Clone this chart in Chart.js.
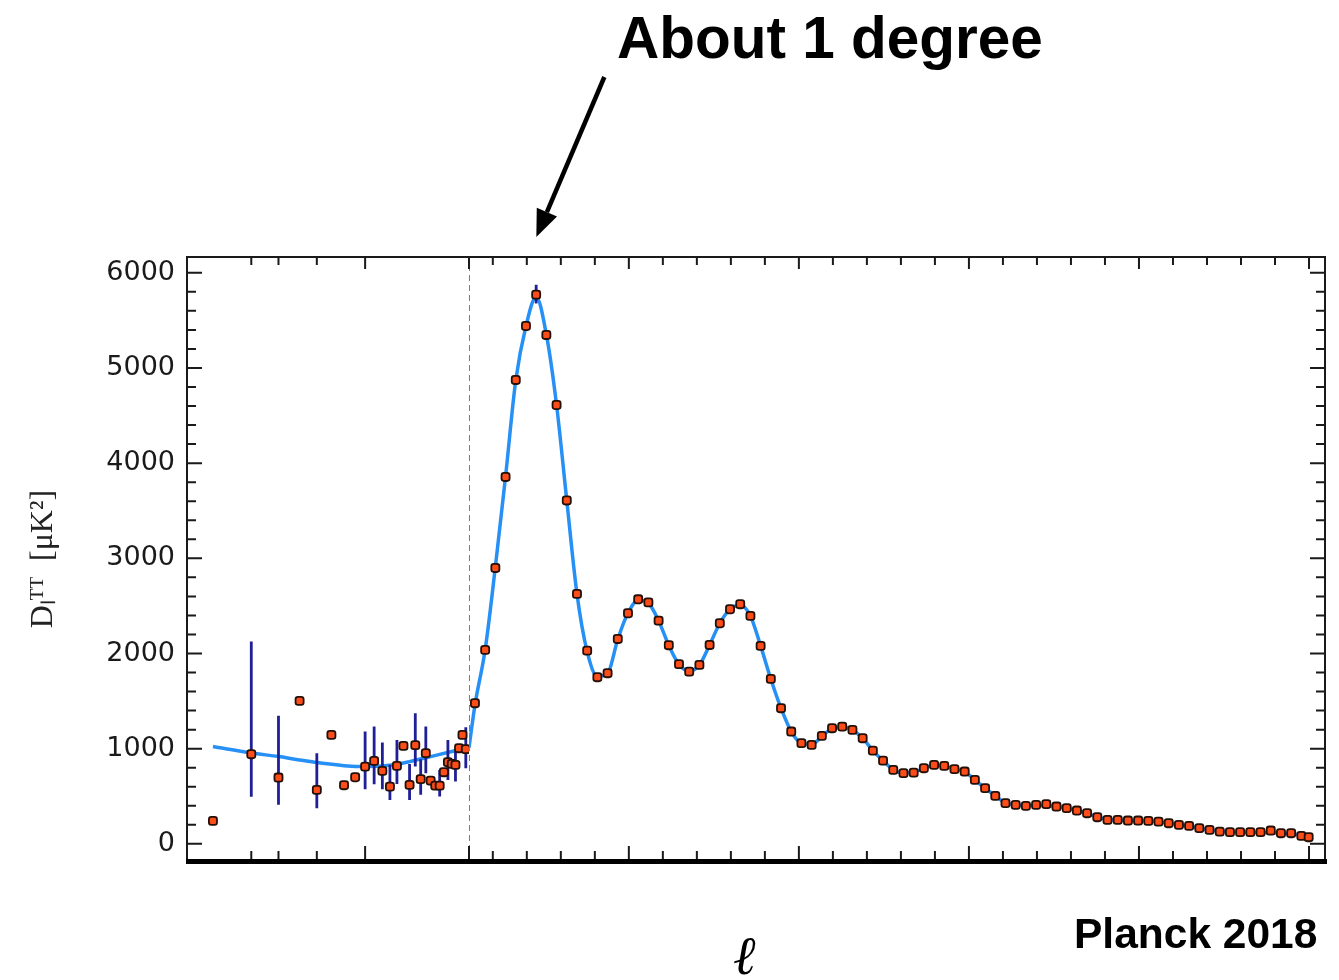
<!DOCTYPE html>
<html>
<head>
<meta charset="utf-8">
<title>Planck 2018 TT spectrum</title>
<script src="https://cdn.jsdelivr.net/npm/chart.js@4.4.1/dist/chart.umd.min.js"></script>
<style>
    html, body { margin: 0; padding: 0; background: #fff; }
    #wrap { position: relative; width: 1339px; height: 980px; overflow: hidden; }
    #chartDiv { position: absolute; left: 0; top: 0; width: 1339px; height: 980px; }
    .note { position: absolute; font-family: 'Liberation Sans', Arial, sans-serif; font-weight: bold; color: #000; white-space: nowrap; line-height: 1; }
    #headline { left: 617px; top: 9px; font-size: 58.5px; }
    #source { left: 1074px; top: 913px; font-size: 42.5px; }
    #ellLabel { left: 733px; top: 929px; font-family: 'DejaVu Serif', serif; font-style: italic; font-weight: normal; font-size: 54px; }
</style>
</head>
<body>
<div id="wrap">
    <div id="chartDiv"><canvas id="myChart"></canvas></div>
    <div class="note" id="headline">About 1 degree</div>
    <div class="note" id="source">Planck 2018</div>
    <div class="note" id="ellLabel">ℓ</div>
</div>
<script>
    // low multipoles (log part of the axis)
    const lowEll = [2, 3, 4, 5, 6, 7, 8, 9, 10, 11, 12, 13, 14, 15, 16, 17, 18, 19, 20, 21, 22, 23, 24, 25, 26, 27, 28, 29];
    const lowD = [242, 942, 697, 1502, 567, 1145, 616, 700, 812, 872, 767, 602, 819, 1029, 620, 1037, 680, 953, 665, 612, 612, 753, 858, 840, 830, 1005, 1145, 995];
    const lowErrLo = [null, 496, 410, null, 375, null, null, null, 575, 627, 575, 462, 630, null, 462, 812, 515, 743, null, null, 497, null, 672, null, 654, null, null, 795];
    const lowErrHi = [null, 2125, 1345, null, 953, null, null, null, 1180, 1232, 1064, 830, 1092, null, 840, 1373, 890, 1232, null, null, 777, null, 1092, null, 970, null, null, 1226];

    const lowCurveEll = [2, 3, 4, 5, 6, 8, 10, 13, 16, 20, 25, 30];
    const lowCurveD = [1022, 955, 917, 882, 854, 822, 812, 826, 864, 917, 970, 1010];

    // binned high multipoles (linear part)
    const binEll = [47.5, 77.5, 107.5, 137.5, 167.5, 197.5, 227.5, 257.5, 287.5, 317.5,
        347.5, 377.5, 407.5, 437.5, 467.5, 497.5, 527.5, 557.5, 587.5, 617.5,
        647.5, 677.5, 707.5, 737.5, 767.5, 797.5, 827.5, 857.5, 887.5, 917.5,
        947.5, 977.5, 1007.5, 1037.5, 1067.5, 1097.5, 1127.5, 1157.5, 1187.5, 1217.5,
        1247.5, 1277.5, 1307.5, 1337.5, 1367.5, 1397.5, 1427.5, 1457.5, 1487.5, 1517.5,
        1547.5, 1577.5, 1607.5, 1637.5, 1667.5, 1697.5, 1727.5, 1757.5, 1787.5, 1817.5,
        1847.5, 1877.5, 1907.5, 1937.5, 1967.5, 1997.5, 2027.5, 2057.5, 2087.5, 2117.5,
        2147.5, 2177.5, 2207.5, 2237.5, 2267.5, 2297.5, 2327.5, 2357.5, 2387.5, 2417.5,
        2447.5, 2477.5, 2499];
    const binD = [1478, 2038, 2899, 3855, 4874, 5441, 5770, 5347, 4611, 3608,
        2626, 2031, 1751, 1793, 2153, 2423, 2570, 2537, 2346, 2087,
        1888, 1810, 1880, 2090, 2318, 2465, 2518, 2395, 2080, 1733,
        1425, 1180, 1058, 1040, 1134, 1215, 1232, 1197, 1110, 980,
        875, 777, 743, 749, 795, 830, 819, 785, 760, 672,
        585, 504, 428, 410, 399, 410, 417, 392, 375, 350,
        322, 280, 252, 252, 245, 245, 242, 234, 217, 200,
        189, 165, 147, 129, 123, 123, 123, 123, 140, 112,
        112, 84, 70];
    const highErrEll = [227.5];
    const highErrLo = [5678];
    const highErrHi = [5874];

    // best-fit curve
    const curveEll = [30].concat(binEll);
    const curveD = [1010,
        1460, 2040, 2910, 3860, 4870, 5440, 5745, 5350, 4610, 3608,
        2626, 2020, 1760, 1790, 2150, 2425, 2560, 2530, 2345, 2085,
        1885, 1815, 1880, 2090, 2318, 2465, 2510, 2395, 2080, 1733,
        1425, 1180, 1058, 1045, 1130, 1210, 1228, 1195, 1110, 980,
        875, 780, 745, 752, 795, 825, 815, 788, 755, 672,
        585, 504, 430, 412, 405, 406, 404, 392, 375, 350,
        320, 282, 256, 250, 246, 243, 240, 233, 218, 202,
        187, 166, 148, 133, 126, 124, 122, 120, 117, 111,
        105, 92, 78];

    // axes
    const yTicks = [0, 1000, 2000, 3000, 4000, 5000, 6000];
    const yMin = -180;
    const yMax = 6166;
    const logTicks = [3, 4, 6, 10, 30];
    const majorLogTicks = [10, 30];
    const linTicks = [100, 200, 300, 400, 500, 600, 700, 800, 900, 1000, 1100, 1200, 1300, 1400, 1500,
        1600, 1700, 1800, 1900, 2000, 2100, 2200, 2300, 2400, 2500];
    const splitEll = 30;
    const arrowEll = 228;
    const yTitle = 'Dₗᵀᵀ  [μK²]';

    const orange = '#ff4d1a';
    const blue = '#2690f5';
    const navy = '#1f1f96';

    const toPoints = (xs, ys) => xs.map((x, i) => ({ x: x, y: ys[i] }));

    function errorSegments(xs, lo, hi) {
        const pts = [];
        xs.forEach((x, i) => {
            if (lo[i] == null) return;
            pts.push({ x: x, y: lo[i] }, { x: x, y: hi[i] }, { x: x, y: null });
        });
        return pts;
    }

    // frame, inward ticks, thick base line and the arrow
    const frameTicks = {
        id: 'frameTicks',
        afterDraw(chart) {
            const { ctx, chartArea: a, scales } = chart;
            ctx.save();
            ctx.strokeStyle = '#1a1a1a';
            ctx.lineWidth = 2;
            ctx.strokeRect(a.left, a.top, a.right - a.left, a.bottom - a.top);

            const xMarks = [];
            logTicks.forEach(v => xMarks.push([scales.xlog.getPixelForValue(v), majorLogTicks.includes(v)]));
            linTicks.forEach(v => xMarks.push([scales.xlin.getPixelForValue(v), v % 500 === 0]));
            ctx.lineWidth = 2;
            ctx.beginPath();
            xMarks.forEach(([px, major]) => {
                ctx.moveTo(px, a.bottom);
                ctx.lineTo(px, a.bottom - (major ? 15 : 10));
                ctx.moveTo(px, a.top);
                ctx.lineTo(px, a.top + (major ? 12 : 8));
            });
            for (let v = 0; v <= 6000; v += 200) {
                const py = scales.y.getPixelForValue(v);
                const len = v % 1000 === 0 ? 15 : 9;
                ctx.moveTo(a.left, py);
                ctx.lineTo(a.left + len, py);
                ctx.moveTo(a.right, py);
                ctx.lineTo(a.right - len, py);
            }
            ctx.stroke();

            ctx.lineWidth = 5;
            ctx.strokeStyle = '#000';
            ctx.beginPath();
            ctx.moveTo(a.left - 1, a.bottom + 0.5);
            ctx.lineTo(a.right + 2, a.bottom + 0.5);
            ctx.stroke();

            // arrow pointing at the first peak
            const tipX = scales.xlin.getPixelForValue(arrowEll);
            const tipY = a.top - 20;
            const tailX = tipX + 68;
            const tailY = tipY - 160;
            const ang = Math.atan2(tipY - tailY, tipX - tailX);
            const headLen = 27, headHalf = 11;
            const baseX = tipX - headLen * Math.cos(ang);
            const baseY = tipY - headLen * Math.sin(ang);
            ctx.strokeStyle = '#000';
            ctx.fillStyle = '#000';
            ctx.lineWidth = 4.5;
            ctx.beginPath();
            ctx.moveTo(tailX, tailY);
            ctx.lineTo(baseX, baseY);
            ctx.stroke();
            ctx.beginPath();
            ctx.moveTo(tipX, tipY);
            ctx.lineTo(baseX + headHalf * Math.sin(ang), baseY - headHalf * Math.cos(ang));
            ctx.lineTo(baseX - headHalf * Math.sin(ang), baseY + headHalf * Math.cos(ang));
            ctx.closePath();
            ctx.fill();
            ctx.restore();
        }
    };

    const pointStyle = {
        type: 'line',
        showLine: false,
        pointStyle: 'rectRounded',
        pointRadius: 4.7,
        pointBackgroundColor: orange,
        pointBorderColor: '#241006',
        pointBorderWidth: 1.8,
        order: 0
    };

    const ctx = document.getElementById('myChart');

    const myChart = new Chart(ctx, {
        type: 'line',
        data: {
            datasets: [
                { ...pointStyle, label: 'low-ell data', xAxisID: 'xlog', yAxisID: 'y', data: toPoints(lowEll, lowD) },
                { ...pointStyle, label: 'binned data', xAxisID: 'xlin', yAxisID: 'y', data: toPoints(binEll, binD) },
                {
                    label: 'low-ell errors', xAxisID: 'xlog', yAxisID: 'y',
                    data: errorSegments(lowEll, lowErrLo, lowErrHi),
                    borderColor: navy, borderWidth: 2.8, pointRadius: 0, spanGaps: false, order: 1
                },
                {
                    label: 'high-ell errors', xAxisID: 'xlin', yAxisID: 'y',
                    data: errorSegments(highErrEll, highErrLo, highErrHi),
                    borderColor: navy, borderWidth: 2.8, pointRadius: 0, spanGaps: false, order: 1
                },
                {
                    label: 'best fit low', xAxisID: 'xlog', yAxisID: 'y',
                    data: toPoints(lowCurveEll, lowCurveD),
                    borderColor: blue, borderWidth: 3.5, pointRadius: 0,
                    cubicInterpolationMode: 'monotone', order: 2
                },
                {
                    label: 'best fit high', xAxisID: 'xlin', yAxisID: 'y',
                    data: toPoints(curveEll, curveD),
                    borderColor: blue, borderWidth: 3.5, pointRadius: 0,
                    cubicInterpolationMode: 'monotone', order: 2
                },
                {
                    label: 'split', xAxisID: 'xlin', yAxisID: 'y',
                    data: [{ x: splitEll, y: yMin }, { x: splitEll, y: yMax }],
                    borderColor: '#707070', borderWidth: 1.8, borderDash: [6, 4], pointRadius: 0, order: 3
                }
            ]
        },
        options: {
            responsive: true,
            maintainAspectRatio: false,
            animation: false,
            layout: { padding: { left: 0, right: 14, top: 257, bottom: 0 } },
            plugins: {
                legend: { display: false },
                tooltip: { enabled: false }
            },
            scales: {
                xlog: {
                    type: 'logarithmic',
                    position: 'bottom',
                    stack: 'ell',
                    stackWeight: 282,
                    min: 1.52,
                    max: splitEll,
                    grid: { display: false, drawTicks: false },
                    border: { display: false },
                    ticks: { display: false },
                    afterFit: s => { s.height = 119; }
                },
                xlin: {
                    type: 'linear',
                    position: 'bottom',
                    stack: 'ell',
                    stackWeight: 856,
                    min: splitEll,
                    max: 2547,
                    grid: { display: false, drawTicks: false },
                    border: { display: false },
                    ticks: { display: false },
                    afterFit: s => { s.height = 119; }
                },
                y: {
                    type: 'linear',
                    position: 'left',
                    min: yMin,
                    max: yMax,
                    afterBuildTicks: s => { s.ticks = yTicks.map(v => ({ value: v })); },
                    afterFit: s => { s.width = 187; },
                    grid: { display: false, drawTicks: false },
                    border: { display: false },
                    ticks: {
                        padding: 12,
                        color: '#1a1a1a',
                        font: { family: 'DejaVu Sans', size: 27 },
                        callback: v => String(v)
                    },
                    title: {
                        display: true,
                        text: yTitle,
                        color: '#222',
                        font: { family: 'Liberation Serif', size: 32 },
                        padding: { top: 24, bottom: 0 }
                    }
                }
            }
        },
        plugins: [frameTicks]
    });
</script>
</body>
</html>
